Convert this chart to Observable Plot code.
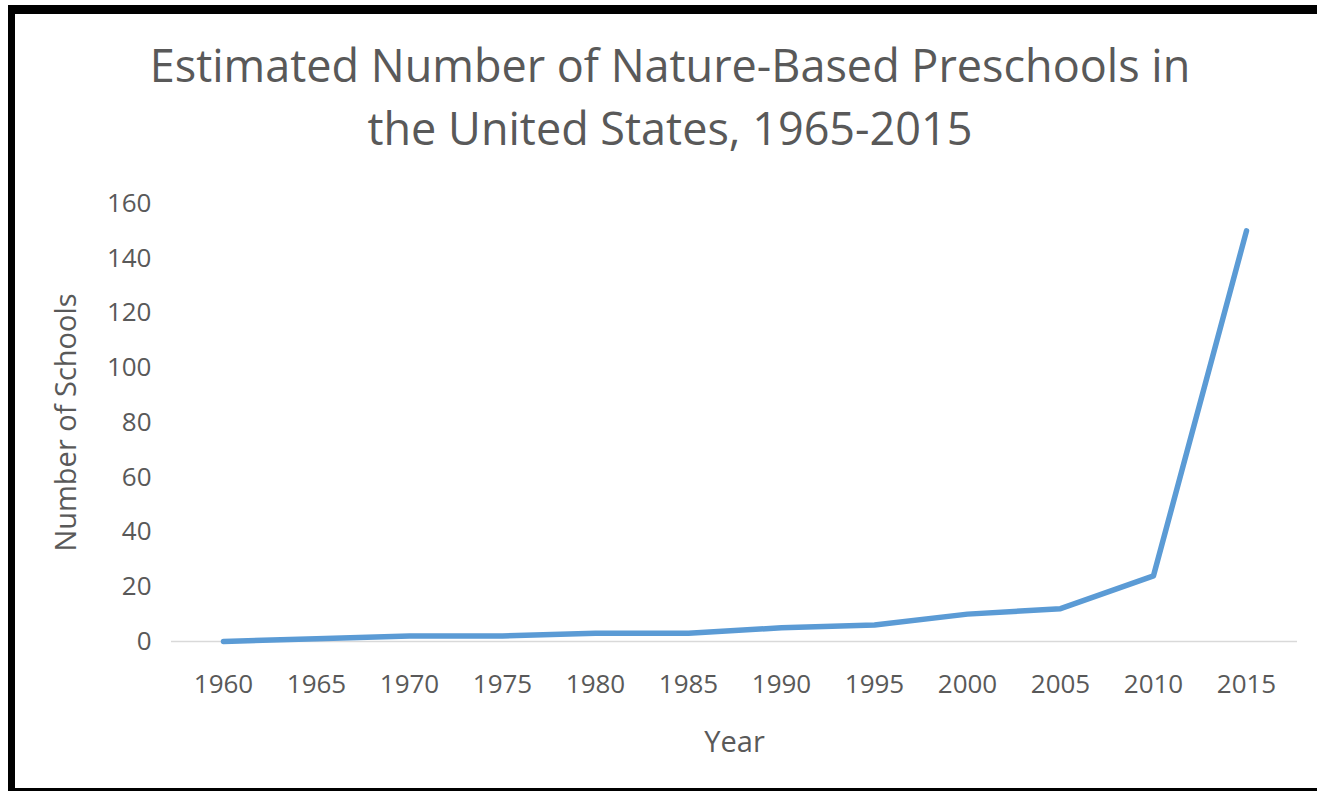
<!DOCTYPE html>
<html>
<head>
<meta charset="utf-8">
<script src="https://cdn.jsdelivr.net/npm/d3@7"></script>
<script src="https://cdn.jsdelivr.net/npm/@observablehq/plot@0.6"></script>
<style>
  html, body { margin: 0; padding: 0; background: #fff; width: 1317px; height: 791px; overflow: hidden; }
  body { position: relative; font-family: "Open Sans", "Noto Sans", sans-serif; }
  #frame { position: absolute; left: 8px; top: 5px; width: 1320px; height: 774px;
           border-left: 7px solid #000; border-top: 9px solid #000; border-bottom: 3px solid #000; }
  #title { position: absolute; left: 0; top: 33px; width: 1340px; text-align: center;
           font-size: 45px; line-height: 63px; color: #595959; }
  #chart { position: absolute; left: 0; top: 180px; }
  #chart svg g[aria-label="x-axis label"] text, #chart svg g[aria-label="y-axis label"] text { font-size: 29px; }
</style>
</head>
<body>
<div id="frame"></div>
<div id="title">Estimated Number of Nature-Based Preschools in<br>the United States, 1965-2015</div>
<div id="chart"></div>
<script>
const years = ["1960","1965","1970","1975","1980","1985","1990","1995","2000","2005","2010","2015"];
const schools = [0, 1, 2, 2, 3, 3, 5, 6, 10, 12, 24, 150];
const yTicks = [0, 20, 40, 60, 80, 100, 120, 140, 160];

const data = years.map((y, i) => ({year: y, value: schools[i]}));

const chart = Plot.plot({
  width: 1317,
  height: 600,
  marginLeft: 171,
  marginRight: 20,
  marginTop: 23,
  marginBottom: 139,
  style: { fontFamily: "'Open Sans', 'Noto Sans', sans-serif", fontSize: "26px", color: "#595959", background: "transparent" },
  x: { type: "point", domain: years, padding: 0.5, label: "Year", labelAnchor: "center", labelArrow: false,
       tickSize: 0, tickPadding: 33, labelOffset: 110 },
  y: { domain: [0, 160], ticks: yTicks, label: "Number of Schools", labelAnchor: "center", labelArrow: false,
       tickSize: 0, tickPadding: 20, labelOffset: 116 },
  marks: [
    Plot.ruleY([0], { stroke: "#d9d9d9", strokeWidth: 1.5 }),
    Plot.line(data, { x: "year", y: "value", stroke: "#5B9BD5", strokeWidth: 5.5, strokeLinejoin: "round" })
  ]
});
document.getElementById("chart").appendChild(chart);
</script>
</body>
</html>
